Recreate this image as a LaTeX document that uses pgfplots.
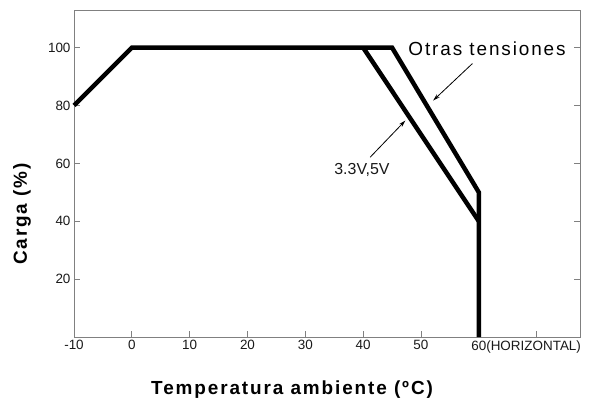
\documentclass[border=0pt]{standalone}
\usepackage{fontspec}
\setmainfont{Liberation Sans}
\newfontfamily\spacedfont[LetterSpace=10]{Liberation Sans}
\usepackage{pgfplots}
\pgfplotsset{compat=1.18}
\usetikzlibrary{arrows.meta}
\begin{document}
\begin{tikzpicture}
\begin{axis}[
    name=ax,
    scale only axis,
    width=506bp, height=327bp,
    xmin=-10, xmax=77.5,
    ymin=0, ymax=113,
    axis line style={draw=black!50, line width=0.9bp},
    every tick/.style={draw=black!50, line width=0.9bp},
    major tick length=6bp,
    tick align=inside,
    xtick={-10,0,10,20,30,40,50,60,70},
    xticklabels={-10,0,10,20,30,40,50,60\rlap{(HORIZONTAL)},},
    xtick pos=bottom,
    ytick={20,40,60,80,100},
    ytick pos=both,
    /pgf/number format/assume math mode=true,
    tick label style={font=\fontsize{13.5}{13.5}\selectfont, text=black!90},
    xlabel={Temperatura ambiente (ºC)},
    ylabel={Carga (\%)},
    xlabel style={at={(axis description cs:0.431,0)}, anchor=center, yshift=-53bp,
        font=\spacedfont\bfseries\fontsize{19}{19}\selectfont},
    ylabel style={at={(axis description cs:-0.1028,0.376)}, anchor=center,
        font=\spacedfont\bfseries\fontsize{19}{19}\selectfont},
    clip=false,
]
\addplot[black, line width=4.5bp, line join=miter] coordinates {
    (-10,80) (0,100) (45,100) (60,50) (60,0)
};
\addplot[black, line width=4.5bp, line join=miter] coordinates {
    (40,100) (60,40)
};
\draw[black, line width=0.8bp, -{Stealth[length=7bp,width=4bp]}] (axis cs:58.9,94.5) -- (axis cs:52.1,81.7);
\draw[black, line width=0.8bp, -{Stealth[length=7bp,width=4bp]}] (axis cs:41.2,62.1) -- (axis cs:47.3,74.8);
\node[anchor=west, inner sep=0pt, font=\spacedfont\fontsize{19}{19}\selectfont] at (axis cs:47.8,99.7) {Otras tensiones};
\node[anchor=center, inner sep=0pt, font=\fontsize{16}{16}\selectfont, text=black!90] at (axis cs:39.8,57.6) {3.3V,5V};
\end{axis}
\pgfresetboundingbox
\path ([shift={(-74bp,-68bp)}]ax.south west) rectangle ([shift={(11bp,10bp)}]ax.north east);
\end{tikzpicture}
\end{document}
